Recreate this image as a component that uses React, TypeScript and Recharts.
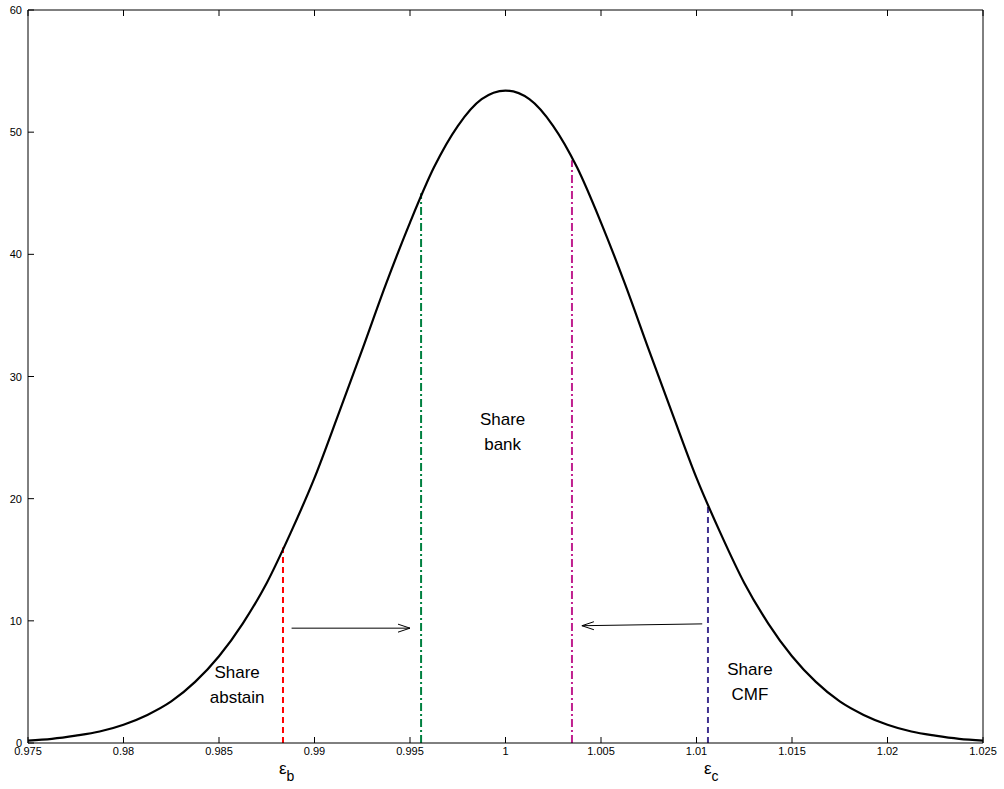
import React from 'react';
import { LineChart, Line, XAxis, YAxis, ReferenceLine, ReferenceDot } from 'recharts';

const xs = [0.975, 0.97625, 0.9775, 0.97875, 0.98, 0.98125, 0.9825, 0.98375, 0.985, 0.98625, 0.9875, 0.98875, 0.99, 0.99125, 0.9925, 0.99375, 0.995, 0.99625, 0.9975, 0.99875, 1.0,
  1.00125, 1.0025, 1.00375, 1.005, 1.00625, 1.0075, 1.00875, 1.01, 1.01125, 1.0125, 1.01375, 1.015, 1.01625, 1.0175, 1.01875, 1.02, 1.02125, 1.0225, 1.02375, 1.025];
const ys = [0.2, 0.34, 0.6, 0.94, 1.5, 2.3, 3.4, 5.0, 7.1, 9.8, 13.1, 17.2, 21.7, 26.9, 32.2, 37.6, 42.6, 47.1, 50.5, 52.7, 53.4,
  52.7, 50.5, 47.1, 42.6, 37.6, 32.2, 26.9, 21.7, 17.2, 13.1, 9.8, 7.1, 5.0, 3.4, 2.3, 1.5, 0.94, 0.6, 0.34, 0.2];
const xTicks = [0.975, 0.98, 0.985, 0.99, 0.995, 1, 1.005, 1.01, 1.015, 1.02, 1.025];
const xTickLabels = ['0.975', '0.98', '0.985', '0.99', '0.995', '1', '1.005', '1.01', '1.015', '1.02', '1.025'];
const yTicks = [0, 10, 20, 30, 40, 50, 60];
const vLines = [
  { x: 0.98835, top: 16.0, color: '#ff0000', dash: '6 4' },
  { x: 0.99558, top: 45.0, color: '#008040', dash: '8 3 2 3' },
  { x: 1.00348, top: 47.7, color: '#c0208f', dash: '8 3 2 3' },
  { x: 1.0106, top: 19.5, color: '#403090', dash: '6 4' },
];
const arrows = [
  { x1: 0.98880, y1: 9.4, x2: 0.99500, y2: 9.4 },
  { x1: 1.01030, y1: 9.75, x2: 1.00400, y2: 9.6 },
];
const labels = [
  { x: 0.98595, y: 5.3, lines: ['Share', 'abstain'] },
  { x: 0.99985, y: 26.0, lines: ['Share', 'bank'] },
  { x: 1.0128, y: 5.6, lines: ['Share', 'CMF'] },
];
const epsLabels = [
  { x: 0.98835, sub: 'b' },
  { x: 1.0106, sub: 'c' },
];

const data = xs.map((x, i) => ({ x, y: ys[i] }));
const FONT = '"Liberation Sans", Arial, sans-serif';

const Arrow = (props: any) => {
  const { x1, y1, x2, y2 } = props;
  const dir = Math.sign(x2 - x1);
  return (
    <g>
      <line x1={x1} y1={y1} x2={x2} y2={y2} stroke="#000" strokeWidth={1} />
      <path d={`M${x2 - dir * 12},${y2 - 4} L${x2},${y2} L${x2 - dir * 12},${y2 + 4}`} fill="none" stroke="#000" strokeWidth={1} />
    </g>
  );
};

const fmtX = (v: number) => xTickLabels[xTicks.findIndex(t => Math.abs(t - v) < 1e-9)];

const BottomTick = (p: any) => (
  <g>
    <line x1={p.x} y1={p.y} x2={p.x} y2={p.y - 6} stroke="#000" />
    <text x={p.x} y={p.y + 12} textAnchor="middle" fontSize={11} fontFamily={FONT} fill="#000">{fmtX(p.payload.value)}</text>
  </g>
);
const TopTick = (p: any) => <line x1={p.x} y1={p.y} x2={p.x} y2={p.y + 6} stroke="#000" />;
const LeftTick = (p: any) => (
  <g>
    <line x1={p.x} y1={p.y} x2={p.x + 6} y2={p.y} stroke="#000" />
    <text x={p.x - 6} y={p.y + 4} textAnchor="end" fontSize={11} fontFamily={FONT} fill="#000">{p.payload.value}</text>
  </g>
);
const RightTick = (p: any) => <line x1={p.x} y1={p.y} x2={p.x - 6} y2={p.y} stroke="#000" />;

export default function App() {
  return (
    <div style={{ position: 'absolute', left: 0, top: 0, background: '#fff' }}>
      <LineChart width={1004} height={789} data={data} margin={{ top: 9, right: 20, bottom: 16, left: 3 }}>
        <XAxis dataKey="x" type="number" domain={[0.975, 1.025]} ticks={xTicks} height={30} tickSize={0} tickMargin={0} tickLine={false} stroke="#000" tick={<BottomTick />} interval={0} />
        <XAxis xAxisId="top" orientation="top" dataKey="x" type="number" domain={[0.975, 1.025]} ticks={xTicks} height={1} tickSize={0} tickMargin={0} tickLine={false} tick={<TopTick />} stroke="#000" interval={0} />
        <YAxis type="number" domain={[0, 60]} ticks={yTicks} width={25} tickSize={0} tickMargin={0} tickLine={false} stroke="#000" tick={<LeftTick />} interval={0} />
        <YAxis yAxisId="right" orientation="right" type="number" domain={[0, 60]} ticks={yTicks} width={1} tickSize={0} tickMargin={0} tickLine={false} tick={<RightTick />} stroke="#000" interval={0} />
        {vLines.map((v, i) => (
          <ReferenceLine key={i} segment={[{ x: v.x, y: 0 }, { x: v.x, y: v.top }]} stroke={v.color} strokeWidth={2} strokeDasharray={v.dash} />
        ))}
        <Line dataKey="y" type="monotone" stroke="#000" strokeWidth={2.2} dot={false} isAnimationActive={false} />
        {arrows.map((a, i) => (
          <ReferenceLine key={'a' + i} segment={[{ x: a.x1, y: a.y1 }, { x: a.x2, y: a.y2 }]} shape={<Arrow />} />
        ))}
        {labels.map((l, i) => (
          <ReferenceDot key={'l' + i} x={l.x} y={l.y} r={0} stroke="none" fill="none"
            label={(p: any) => (
              <text x={p.viewBox.x} y={p.viewBox.y} textAnchor="middle" fontFamily={FONT} fontSize={17} fill="#000">
                {l.lines.map((t, j) => <tspan key={j} x={p.viewBox.x} dy={j === 0 ? 0 : 25}>{t}</tspan>)}
              </text>
            )} />
        ))}
        {epsLabels.map((e, i) => (
          <ReferenceDot key={'e' + i} x={e.x} y={0} r={0} stroke="none" fill="none" ifOverflow="visible"
            label={(p: any) => (
              <text x={p.viewBox.x - 4} y={p.viewBox.y + 31} fontFamily={FONT} fontSize={17} fill="#000">
                ε<tspan dy={7} fontSize={14}>{e.sub}</tspan>
              </text>
            )} />
        ))}
      </LineChart>
    </div>
  );
}
